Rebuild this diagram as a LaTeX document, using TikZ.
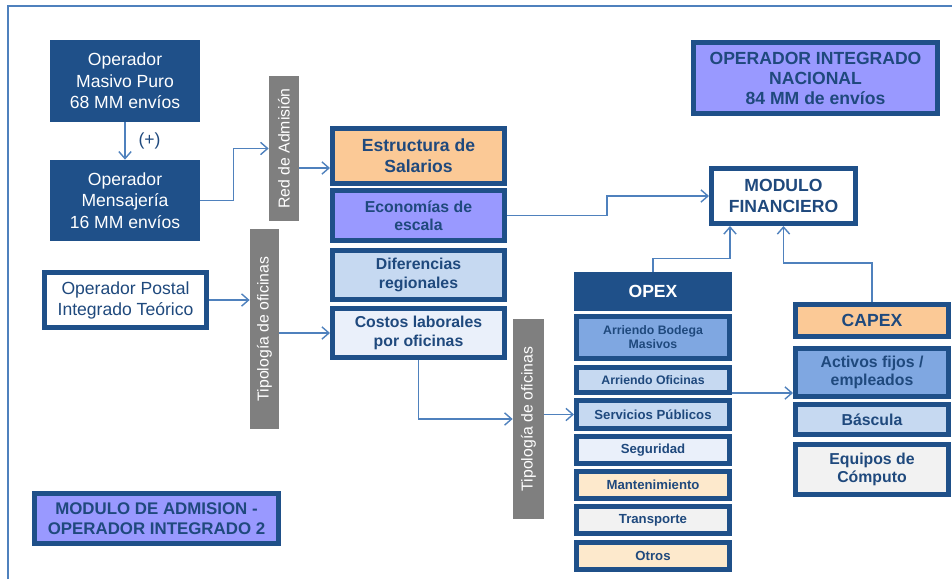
\documentclass[tikz,border=0pt]{standalone}
\usepackage{fontspec}
\setmainfont{Liberation Sans}
\usetikzlibrary{arrows.meta, positioning}
\definecolor{azul}{RGB}{31,80,137}
\definecolor{azultexto}{RGB}{31,73,125}
\definecolor{linea}{RGB}{79,129,189}
\definecolor{gris}{RGB}{127,127,127}
\definecolor{durazno}{RGB}{251,201,150}
\definecolor{lila}{RGB}{153,153,255}
\definecolor{celeste}{RGB}{198,217,241}
\definecolor{hielo}{RGB}{234,240,250}
\definecolor{medio}{RGB}{127,167,225}
\definecolor{crema}{RGB}{253,233,204}
\definecolor{nube}{RGB}{242,242,242}

\begin{document}
\begin{tikzpicture}[
                        x=0.02cm, y=-0.02cm,
                        tam/.style 2 args={minimum width={#1*0.02cm}, minimum height={#2*0.02cm}},
                        tamc/.style 2 args={minimum width={#1*0.02cm-2.6pt}, minimum height={#2*0.02cm-2.6pt}},
                        caja/.style={rectangle, draw=azul, line width=2.6pt, text=azultexto, align=center,
                                     inner sep=1pt, font=\bfseries\fontsize{9}{10.4}\selectfont},
                        grande/.style={font=\bfseries\fontsize{10}{12}\selectfont},
                        chica/.style={font=\bfseries\fontsize{7.5}{9}\selectfont},
                        oscura/.style={rectangle, fill=azul, text=white, align=center, inner sep=1pt,
                                       font=\fontsize{10}{12.2}\selectfont},
                        barra/.style={rectangle, fill=gris, inner sep=0pt},
                        etiqueta/.style={rotate=90, text=white, font=\fontsize{9}{11}\selectfont},
                        flecha/.style={draw=linea, line width=0.8pt, -{Straight Barb[length=4pt, width=7pt]}}
                        ]

                        \useasboundingbox (0,0) rectangle (952,579);
                        \draw[linea, line width=1pt] (8,579) -- (8,6) -- (952,6);

                        \node[oscura, tam={150}{82}] (masivo) at (125,81) {Operador\\Masivo Puro\\68 MM envíos};
                        \node[oscura, tam={150}{81}] (mensajeria) at (125,200.5) {Operador\\Mensajería\\16 MM envíos};
                        \node[caja, fill=white, font=\fontsize{10}{12}\selectfont, tamc={167}{60}] (postal) at (125.5,300)
                          {Operador Postal\\Integrado Teórico};
                        \node[caja, fill=lila, font=\bfseries\fontsize{9.6}{11.5}\selectfont, tamc={249}{55}] (admision) at (156.5,518.5)
                          {MODULO DE ADMISION -\\OPERADOR INTEGRADO 2};

                        \node[barra, tam={30}{145}, label={[etiqueta]center:Red de Admisión}] (red) at (284,148.5) {};
                        \node[barra, tam={29}{200}, label={[etiqueta]center:Tipología de oficinas}] (tipo1) at (264.5,329) {};
                        \node[barra, tam={31}{200}, label={[etiqueta]center:Tipología de oficinas}] (tipo2) at (528.5,419) {};

                        \node[caja, grande, fill=durazno, tamc={177}{60}] (estructura) at (418.5,156) {Estructura de\\Salarios};
                        \node[caja, fill=lila, tamc={177}{55}] (economias) at (418.5,215.5) {Economías de\\escala};
                        \node[caja, fill=celeste, tamc={177}{54}] (diferencias) at (418.5,275) {Diferencias\\regionales};
                        \node[caja, fill=hielo, tamc={177}{54}] (costos) at (418.5,333) {Costos laborales\\por oficinas};

                        \node[oscura, grande, tam={158}{39}] (opex) at (653,291.5) {OPEX};
                        \node[caja, fill=medio, tamc={158}{47}, font=\bfseries\fontsize{7}{8}\selectfont] (bodega) at (653,337.5)
                          {Arriendo Bodega\\Masivos};
                        \node[caja, fill=celeste, tamc={158}{30}, font=\bfseries\fontsize{7}{8}\selectfont] (oficinas) at (653,380)
                          {Arriendo Oficinas};
                        \node[caja, chica, fill=celeste, tamc={158}{33}] (servicios) at (653,414.5) {Servicios Públicos};
                        \node[caja, chica, fill=hielo, tamc={158}{32}] (seguridad) at (653,450) {Seguridad};
                        \node[caja, chica, fill=crema, tamc={158}{32}] (mantenimiento) at (653,485) {Mantenimiento};
                        \node[caja, chica, fill=nube, tamc={158}{32}] (transporte) at (653,520) {Transporte};
                        \node[caja, chica, fill=crema, tamc={158}{32}] (otros) at (653,556) {Otros};

                        \node[caja, grande, fill=lila, tamc={249}{76}, font=\bfseries\fontsize{10}{11.4}\selectfont] (nacional) at (815.5,78)
                          {OPERADOR INTEGRADO\\NACIONAL\\84 MM de envíos};
                        \node[caja, grande, fill=white, tamc={149}{60}] (financiero) at (783.5,196) {MODULO\\FINANCIERO};

                        \node[caja, grande, fill=durazno, tamc={158}{37}] (capex) at (872,320.5) {CAPEX};
                        \node[caja, fill=medio, tamc={158}{53}] (activos) at (872,372.5) {Activos fijos /\\empleados};
                        \node[caja, fill=celeste, tamc={158}{35}] (bascula) at (872,419.5) {Báscula};
                        \node[caja, fill=nube, tamc={158}{55}] (equipos) at (872,469.5) {Equipos de\\Cómputo};

                        \coordinate (yred) at (0,168);
                        \coordinate (yofi) at (0,393);

                        \draw[flecha] (masivo) -- node[right=4pt, text=azultexto, font=\fontsize{10}{12}\selectfont] {(+)} (mensajeria);
                        \draw[flecha] (mensajeria.east) -- ++(33,0) |- (red.west);
                        \draw[flecha] (red.east |- yred) -- (estructura.west |- yred);
                        \draw[flecha] (postal.east) -- (postal.east -| tipo1.west);
                        \draw[flecha] (costos.west -| tipo1.east) -- (costos.west);
                        \draw[flecha] (economias.east) -- ++(100,0) |- (financiero.west);
                        \draw[flecha] (costos.south) |- (tipo2.west);
                        \draw[flecha] (servicios.west -| tipo2.east) -- (servicios.west);
                        \draw[flecha] (opex.north) -- ++(0,-13) -| ([xshift=0.42cm]financiero.south west);
                        \draw[flecha] (capex.north) -- ++(0,-39) -| (financiero.south);
                        \draw[flecha] (oficinas.east |- yofi) -- (activos.west |- yofi);
                      \end{tikzpicture}
\end{document}
